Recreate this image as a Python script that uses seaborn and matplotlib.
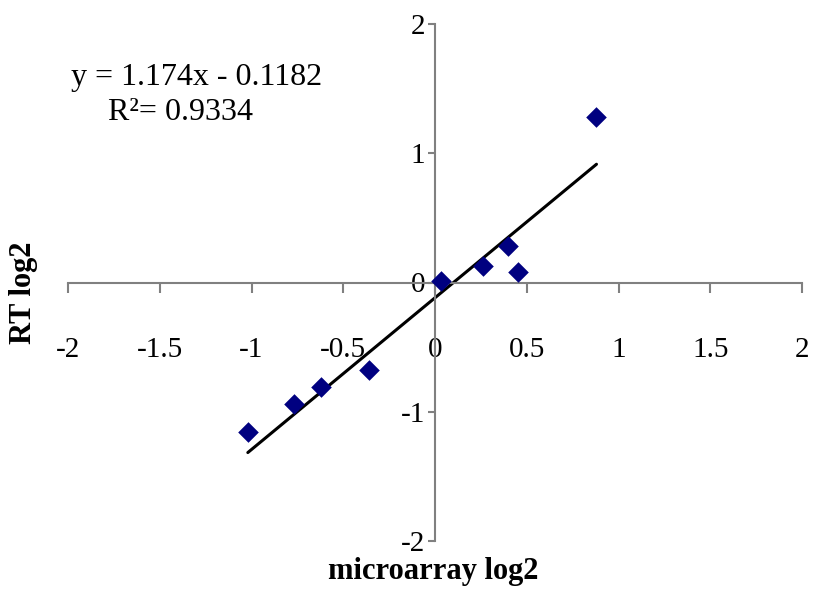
import matplotlib
matplotlib.use("Agg")
import matplotlib.pyplot as plt
import seaborn as sns
import numpy as np
import pandas as pd

# values
microarray = [-1.02, -0.77, -0.62, -0.36, 0.03, 0.26, 0.40, 0.45, 0.88]
rt = [-1.16, -0.94, -0.81, -0.68, 0.01, 0.13, 0.28, 0.08, 1.28]
slope = 1.174
intercept = -0.1182
r_squared = 0.9334
ticks = [-2, -1.5, -1, -0.5, 0, 0.5, 1, 1.5, 2]
yticks = [-2, -1, 0, 1, 2]

df = pd.DataFrame({"microarray": microarray, "rt": rt})
x_fit = np.array([min(microarray), max(microarray)])
fit = pd.DataFrame({"x": x_fit, "y": slope * x_fit + intercept})

sns.set_style("white")
plt.rcParams["font.family"] = ["Liberation Serif", "DejaVu Serif"]
plt.rcParams["text.color"] = "black"
plt.rcParams["xtick.labelcolor"] = "black"
plt.rcParams["ytick.labelcolor"] = "black"

W, H = 816, 589
fig = plt.figure(figsize=(W / 100, H / 100), dpi=100)
ax = fig.add_axes([68 / W, (H - 541) / H, 734 / W, 517 / H])

sns.lineplot(data=fit, x="x", y="y", color="black", linewidth=2.2, ax=ax)
sns.scatterplot(data=df, x="microarray", y="rt", marker="D", s=110,
                color="#000080", edgecolor="#000080", linewidth=0, ax=ax, zorder=3)

ax.set_xlim(-2, 2)
ax.set_ylim(-2, 2)
for side in ["top", "right"]:
    ax.spines[side].set_visible(False)
for side in ["left", "bottom"]:
    ax.spines[side].set_position("zero")
    ax.spines[side].set_color("#808080")
    ax.spines[side].set_linewidth(1.5)

ax.set_xticks(ticks)
ax.set_xticklabels([f"{t:g}" for t in ticks])
ax.set_yticks(yticks)
ax.set_yticklabels([f"{t:g}" for t in yticks])
ax.tick_params(axis="x", direction="out", length=7, width=1.5, color="#808080",
               pad=32, labelsize=21, labelcolor="black", bottom=True)
ax.tick_params(axis="y", direction="out", length=5, width=1.5, color="#808080",
               pad=2, labelsize=21, labelcolor="black", left=True)

ax.set_xlabel("")
ax.set_ylabel("")
fig.text(433 / W, 1 - 572 / H, "microarray log2", ha="center", va="center",
         fontsize=22, fontweight="bold")
fig.text(23 / W, 1 - 293 / H, "RT log2", ha="center", va="center",
         fontsize=22, fontweight="bold", rotation=90)

fig.text(197 / W, 1 - 78 / H, f"y = {slope}x - {abs(intercept)}", ha="center",
         va="center", fontsize=23)
fig.text(181 / W, 1 - 113 / H, f"R²= {r_squared}", ha="center",
         va="center", fontsize=23)

fig.savefig("out.png", dpi=100)
